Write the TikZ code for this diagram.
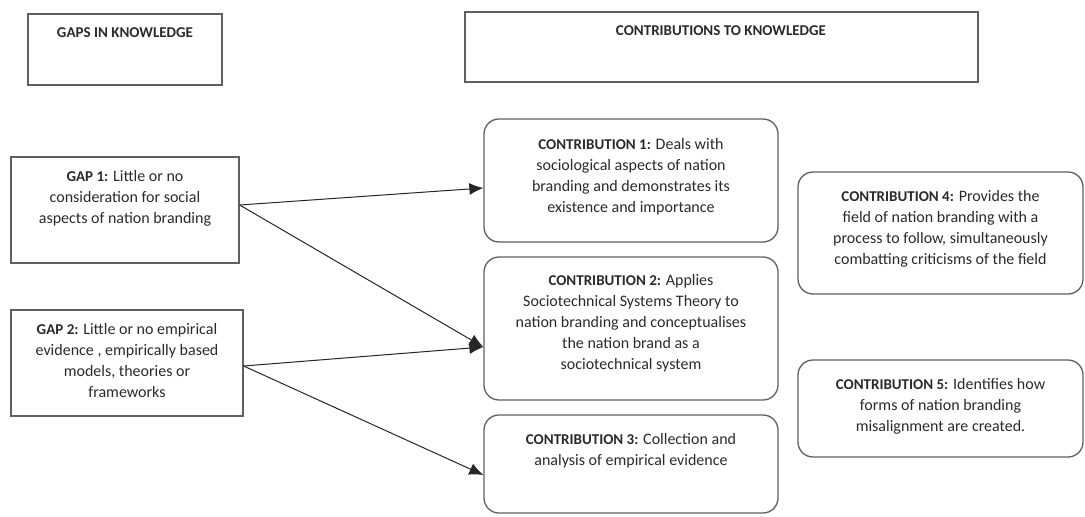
\documentclass[tikz,border=0pt]{standalone}
\usepackage{fontspec}
\setmainfont{Carlito}
\usetikzlibrary{arrows.meta}
\definecolor{linegray}{HTML}{606060}
\definecolor{txtgray}{HTML}{2A2A2A}
\newcommand{\hd}[1]{{\fontsize{15}{21}\selectfont\bfseries #1}}
\tikzset{
  sqbox/.style={draw=linegray, line width=1.3pt, fill=none, inner sep=0pt},
  rbox/.style={draw=linegray, line width=1.3pt, rounded corners=15pt, inner sep=0pt},
  txt/.style={align=center, text=txtgray, font=\fontsize{16}{21}\selectfont, inner sep=0pt},
  conn/.style={draw=black!85, line width=1pt, -{Latex[length=14pt,width=12pt]}}
}
\begin{document}
\begin{tikzpicture}[x=1pt,y=-1pt]
\useasboundingbox (0,0) rectangle (1085,517);
% header boxes
\node[sqbox, minimum width=194pt, minimum height=71pt] (gh) at (125,49.5) {};
\node[txt] (ght) at (125,33) {\hd{GAPS IN KNOWLEDGE}};
\node[sqbox, minimum width=513pt, minimum height=70pt] (ch) at (721.5,47) {};
\node[txt] (cht) at (721,31) {\hd{CONTRIBUTIONS TO KNOWLEDGE}};
% gap boxes
\node[sqbox, minimum width=228pt, minimum height=106pt] (g1) at (125,210) {};
\node[txt] (g1t) at (125,198) {\hd{GAP 1:} Little or no\\consideration for social\\aspects of nation branding};
\node[sqbox, minimum width=232pt, minimum height=106pt] (g2) at (127,363) {};
\node[txt] (g2t) at (127,360.5) {\hd{GAP 2:} Little or no empirical\\evidence , empirically based\\models, theories or\\frameworks};
% contribution boxes
\node[rbox, minimum width=294pt, minimum height=123pt] (c1) at (631,180.5) {};
\node[txt] (c1t) at (631,176.5) {\hd{CONTRIBUTION 1:} Deals with\\sociological aspects of nation\\branding and demonstrates its\\existence and importance};
\node[rbox, minimum width=294pt, minimum height=143pt] (c2) at (631,328.5) {};
\node[txt] (c2t) at (631,323.5) {\hd{CONTRIBUTION 2:} Applies\\Sociotechnical Systems Theory to\\nation branding and conceptualises\\the nation brand as a\\sociotechnical system};
\node[rbox, minimum width=294pt, minimum height=98pt] (c3) at (631,464) {};
\node[txt] (c3t) at (631,451) {\hd{CONTRIBUTION 3:} Collection and\\analysis of empirical evidence};
\node[rbox, minimum width=285pt, minimum height=122pt] (c4) at (940.5,233) {};
\node[txt] (c4t) at (940.5,229) {\hd{CONTRIBUTION 4:} Provides the\\field of nation branding with a\\process to follow, simultaneously\\combatting criticisms of the field};
\node[rbox, minimum width=285pt, minimum height=97pt] (c5) at (940.5,408.5) {};
\node[txt] (c5t) at (940.5,406.5) {\hd{CONTRIBUTION 5:} Identifies how\\forms of nation branding\\misalignment are created.};
% connectors
\draw[conn] ([yshift=5pt]g1.east) -- ([yshift=-7.5pt]c1.west);
\draw[conn] ([yshift=5pt]g1.east) -- ([yshift=-18.5pt]c2.west);
\draw[conn] ([yshift=-3pt]g2.east) -- ([yshift=-18.5pt]c2.west);
\draw[conn] ([yshift=-3pt]g2.east) -- ([yshift=-11pt]c3.west);
\end{tikzpicture}
\end{document}
